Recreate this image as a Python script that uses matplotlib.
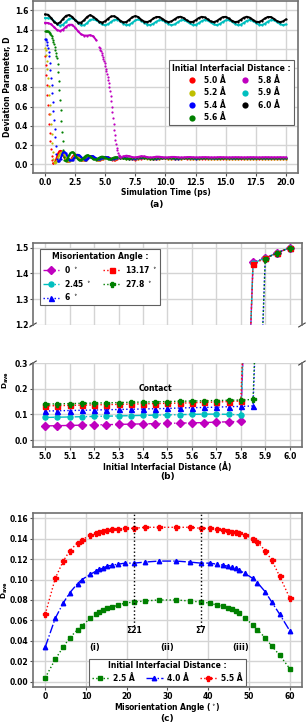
import numpy as np
import matplotlib
matplotlib.use("Agg")
import matplotlib.pyplot as plt
from matplotlib.lines import Line2D

plt.rcParams['font.family'] = ['DejaVu Sans']
plt.rcParams['font.weight'] = 'bold'
plt.rcParams['axes.labelweight'] = 'bold'
plt.rcParams['mathtext.default'] = 'bf'
plt.rcParams['font.size'] = 5.5

# ---------------- panel (a): D vs simulation time ----------------
# each series is stored as segments: (start time, step, values)
red_drop = [1.12, 1.03, 0.93, 0.82, 0.72, 0.62, 0.52, 0.42, 0.33, 0.24, 0.16, 0.09, 0.04, 0.015]
red_ring = [0.012, 0.02, 0.045, 0.08, 0.115, 0.135, 0.14, 0.13, 0.105, 0.075,
            0.05, 0.035, 0.03, 0.03, 0.04, 0.06, 0.08, 0.095, 0.10, 0.10,
            0.09, 0.075, 0.06, 0.048, 0.042, 0.04, 0.042, 0.05, 0.062, 0.074,
            0.082, 0.085, 0.083, 0.077, 0.068, 0.058, 0.05, 0.046, 0.045, 0.047,
            0.052, 0.06, 0.067, 0.073, 0.075, 0.074, 0.07, 0.063, 0.056, 0.05,
            0.048, 0.048, 0.051, 0.056]
red_tail = [0.062, 0.066, 0.064, 0.058, 0.052, 0.05, 0.054, 0.06, 0.064, 0.062,
            0.057, 0.053, 0.052, 0.056, 0.061, 0.062, 0.059, 0.055, 0.053, 0.056,
            0.06, 0.061, 0.058, 0.055, 0.054, 0.057, 0.06, 0.06, 0.057, 0.055,
            0.055, 0.058, 0.06, 0.059, 0.056, 0.055, 0.056, 0.059, 0.06, 0.058,
            0.056, 0.055, 0.057, 0.059, 0.059, 0.057, 0.055, 0.056, 0.058, 0.059,
            0.058, 0.056, 0.056, 0.057, 0.059, 0.058]

yel_drop = [1.21, 1.19, 1.14, 1.07, 0.99, 0.90, 0.81, 0.72, 0.62, 0.52, 0.42, 0.32, 0.22, 0.13, 0.06, 0.025]
yel_ring = [0.015, 0.02, 0.04, 0.07, 0.10, 0.12, 0.125, 0.115, 0.095, 0.07,
            0.05, 0.038, 0.033, 0.035, 0.045, 0.06, 0.075, 0.088, 0.093, 0.09,
            0.082, 0.07, 0.058, 0.05, 0.045, 0.045, 0.05, 0.058, 0.066, 0.074,
            0.078, 0.078, 0.074, 0.067, 0.06, 0.054, 0.05, 0.05, 0.052, 0.057,
            0.063, 0.068, 0.071, 0.071, 0.068, 0.064, 0.059, 0.055, 0.053, 0.054,
            0.057, 0.061, 0.064]
yel_tail = [0.066, 0.065, 0.06, 0.055, 0.053, 0.055, 0.06, 0.064, 0.064, 0.06,
            0.056, 0.054, 0.056, 0.06, 0.063, 0.062, 0.059, 0.056, 0.055, 0.057,
            0.06, 0.062, 0.061, 0.058, 0.056, 0.056, 0.058, 0.061, 0.061, 0.059,
            0.057, 0.056, 0.058, 0.06, 0.061, 0.06, 0.058, 0.057, 0.057, 0.059,
            0.061, 0.06, 0.058, 0.057, 0.058, 0.06, 0.061, 0.06, 0.058, 0.057,
            0.058, 0.06, 0.06, 0.059, 0.058, 0.058]

blu_drop = [1.30, 1.30, 1.29, 1.27, 1.24, 1.21, 1.17, 1.12, 1.05, 0.98, 0.90, 0.82,
            0.74, 0.65, 0.55, 0.46, 0.37, 0.28, 0.19, 0.11, 0.06, 0.035, 0.03]
blu_ring = [0.035, 0.06, 0.10, 0.125, 0.13, 0.12, 0.095, 0.07, 0.05, 0.04,
            0.04, 0.05, 0.065, 0.08, 0.095, 0.10, 0.097, 0.088, 0.075, 0.062,
            0.053, 0.048, 0.05, 0.056, 0.066, 0.076, 0.083, 0.085, 0.082, 0.075,
            0.066, 0.058, 0.053, 0.052, 0.055, 0.061, 0.068, 0.074, 0.077, 0.076,
            0.072, 0.066, 0.06, 0.056, 0.055, 0.058, 0.063, 0.068, 0.07]
blu_tail = [0.07, 0.067, 0.062, 0.058, 0.057, 0.059, 0.063, 0.067, 0.068, 0.065,
            0.061, 0.058, 0.058, 0.061, 0.064, 0.066, 0.065, 0.062, 0.06, 0.06,
            0.062, 0.064, 0.065, 0.063, 0.061, 0.06, 0.061, 0.063, 0.064, 0.064,
            0.062, 0.061, 0.061, 0.062, 0.064, 0.064, 0.063, 0.061, 0.061, 0.062,
            0.063, 0.064, 0.063, 0.062, 0.061, 0.062, 0.063, 0.063, 0.062, 0.062,
            0.062, 0.063, 0.063, 0.062, 0.062, 0.062]

grn_drop = [1.385, 1.386, 1.386, 1.385, 1.383, 1.380, 1.376, 1.371, 1.364, 1.355,
            1.344, 1.330, 1.314, 1.295, 1.273, 1.248, 1.220, 1.190, 1.160, 1.130,
            1.100, 1.040, 0.960, 0.870, 0.770, 0.670, 0.560, 0.450, 0.340, 0.240,
            0.150, 0.080, 0.040]
grn_ring = [0.035, 0.045, 0.07, 0.095, 0.115, 0.125, 0.125, 0.115, 0.095, 0.075,
            0.057, 0.046, 0.042, 0.045, 0.055, 0.068, 0.08, 0.09, 0.095, 0.093,
            0.085, 0.075, 0.064, 0.056, 0.051, 0.05, 0.054, 0.061, 0.069, 0.076,
            0.08, 0.08, 0.076, 0.07, 0.063, 0.057, 0.054, 0.054, 0.058, 0.064,
            0.07, 0.074, 0.074, 0.071]
grn_tail = [0.066, 0.061, 0.058, 0.058, 0.061, 0.066, 0.07, 0.071, 0.068, 0.064,
            0.06, 0.059, 0.061, 0.065, 0.068, 0.068, 0.066, 0.063, 0.061, 0.061,
            0.063, 0.066, 0.067, 0.066, 0.064, 0.062, 0.062, 0.063, 0.065, 0.066,
            0.066, 0.064, 0.063, 0.062, 0.063, 0.065, 0.066, 0.065, 0.064, 0.063,
            0.063, 0.064, 0.065, 0.065, 0.064, 0.063, 0.063, 0.064, 0.065, 0.065,
            0.064, 0.064, 0.064, 0.064, 0.065, 0.065]

mag_early = [1.47, 1.468, 1.455, 1.425, 1.395, 1.385, 1.40, 1.43, 1.45, 1.45,
             1.42, 1.38, 1.35, 1.338, 1.337, 1.342, 1.33, 1.29]
mag_drop = [1.22, 1.205, 1.19, 1.175, 1.155, 1.135, 1.115, 1.095, 1.075, 1.05,
            1.02, 0.995, 0.97, 0.94, 0.91, 0.88, 0.84, 0.80, 0.76, 0.71,
            0.66, 0.60, 0.54, 0.48, 0.42, 0.36, 0.30, 0.25, 0.21, 0.17,
            0.145, 0.12, 0.10, 0.09, 0.082, 0.077, 0.075]
mag_tail = [0.082, 0.09, 0.085, 0.075, 0.072, 0.078, 0.085, 0.082, 0.075, 0.071,
            0.074, 0.08, 0.079, 0.074, 0.071, 0.073, 0.077, 0.077, 0.074, 0.071,
            0.072, 0.075, 0.076, 0.074, 0.072, 0.072, 0.074, 0.075, 0.074, 0.072,
            0.072, 0.073, 0.075, 0.074, 0.073, 0.072, 0.073, 0.074, 0.074, 0.073,
            0.072, 0.073, 0.074, 0.074, 0.073, 0.072, 0.073, 0.074, 0.074, 0.073,
            0.073, 0.073, 0.074, 0.073, 0.073]

cyn_all = [1.520, 1.518, 1.515, 1.488, 1.456, 1.440, 1.451, 1.482, 1.511, 1.519,
           1.501, 1.468, 1.444, 1.444, 1.468, 1.501, 1.505, 1.498, 1.476, 1.453,
           1.445, 1.457, 1.481, 1.501, 1.503, 1.486, 1.462, 1.446, 1.450, 1.471,
           1.495, 1.505, 1.491, 1.470, 1.451, 1.447, 1.461, 1.483, 1.498, 1.497,
           1.479, 1.457, 1.446, 1.453, 1.474, 1.494, 1.500, 1.487, 1.465, 1.449,
           1.448, 1.465, 1.487, 1.500, 1.494, 1.475, 1.454, 1.446, 1.457, 1.478,
           1.496, 1.499, 1.484, 1.461, 1.447, 1.450, 1.469, 1.490, 1.500, 1.491,
           1.470, 1.451, 1.447, 1.460, 1.482, 1.498, 1.497, 1.480, 1.458, 1.446,
           1.453]
blk_all = [1.557, 1.554, 1.521, 1.480, 1.460, 1.474, 1.512, 1.543, 1.551, 1.532,
           1.498, 1.472, 1.472, 1.498, 1.532, 1.551, 1.533, 1.508, 1.482, 1.473,
           1.487, 1.514, 1.537, 1.539, 1.520, 1.492, 1.474, 1.479, 1.503, 1.529,
           1.541, 1.529, 1.501, 1.482, 1.478, 1.492, 1.515, 1.531, 1.530, 1.511,
           1.489, 1.477, 1.485, 1.506, 1.527, 1.533, 1.520, 1.497, 1.480, 1.479,
           1.496, 1.519, 1.532, 1.527, 1.507, 1.485, 1.477, 1.488, 1.510, 1.529,
           1.532, 1.516, 1.493, 1.478, 1.481, 1.501, 1.523, 1.533, 1.524, 1.502,
           1.482, 1.478, 1.492, 1.515, 1.531, 1.530, 1.512, 1.489, 1.477, 1.484,
           1.505]

dist_labels_a = ['5.0 Å', '5.2 Å', '5.4 Å', '5.6 Å', '5.8 Å', '5.9 Å', '6.0 Å']
colors_a = ['r', 'y', 'b', 'g', 'm', 'c', 'k']
# (start, step, values, dotted-only?)
series_a = [
    [(0.0, 0.05, red_drop, True), (0.7, 0.1, red_ring, False), (6.25, 0.25, red_tail, False)],
    [(0.0, 0.05, yel_drop, True), (0.8, 0.1, yel_ring, False), (6.25, 0.25, yel_tail, False)],
    [(0.0, 0.05, blu_drop, True), (1.2, 0.1, blu_ring, False), (6.25, 0.25, blu_tail, False)],
    [(0.0, 0.05, grn_drop, True), (1.7, 0.1, grn_ring, False), (6.25, 0.25, grn_tail, False)],
    [(0.0, 0.25, mag_early, False), (4.5, 0.05, mag_drop, True), (6.5, 0.25, mag_tail, False)],
    [(0.0, 0.25, cyn_all, False)],
    [(0.0, 0.25, blk_all, False)],
]

# ---------------- panel (b): D_ave vs interfacial distance ----------------
dist_b = [5.0, 5.05, 5.1, 5.15, 5.2, 5.25, 5.3, 5.35, 5.4, 5.45, 5.5,
          5.55, 5.6, 5.65, 5.7, 5.75, 5.8, 5.85, 5.9, 5.95, 6.0]
ang0 = [0.055, 0.056, 0.057, 0.058, 0.059, 0.060, 0.061, 0.062, 0.063, 0.064, 0.065,
        0.066, 0.067, 0.068, 0.070, 0.071, 0.073, 1.445, 1.46, 1.48, 1.50]
ang245 = [0.088, 0.089, 0.090, 0.091, 0.092, 0.093, 0.094, 0.095, 0.096, 0.097, 0.098,
          0.099, 0.100, 0.101, 0.101, 0.100, 0.098, 1.44, 1.46, 1.48, 1.50]
ang6 = [0.113, 0.114, 0.115, 0.116, 0.117, 0.118, 0.119, 0.120, 0.121, 0.122, 0.123,
        0.125, 0.126, 0.127, 0.128, 0.130, 0.131, 0.133, 1.46, 1.48, 1.50]
ang1317 = [0.133, 0.134, 0.135, 0.136, 0.137, 0.138, 0.139, 0.140, 0.141, 0.142, 0.143,
           0.144, 0.145, 0.147, 0.148, 0.150, 0.152, 1.435, 1.46, 1.48, 1.50]
ang278 = [0.140, 0.141, 0.142, 0.143, 0.144, 0.145, 0.146, 0.147, 0.148, 0.149, 0.150,
          0.151, 0.152, 0.153, 0.154, 0.155, 0.156, 0.158, 1.457, 1.48, 1.50]
labels_b = ['0 $^\\circ$', '2.45 $^\\circ$', '6 $^\\circ$', '13.17 $^\\circ$', '27.8 $^\\circ$']
series_b = [ang0, ang245, ang6, ang1317, ang278]
style_b = [('m', 'D', '-.'), ('c', 'o', '-.'), ('b', '^', ':'), ('r', 's', ':'), ('g', 'P', ':')]

# ---------------- panel (c): D_ave vs misorientation angle ----------------
angles_c = [0, 2.45, 4.41, 6.01, 7.93, 9.05, 11.0, 12.4, 13.17, 14.1, 15.2, 16.4, 17.9,
            19.6, 21.79, 24.43, 27.8, 32.2, 35.57, 38.21, 40.4, 42.1, 43.6, 44.8,
            45.9, 46.83, 47.6, 49.0, 50.95, 52.07, 53.99, 55.59, 57.55, 60]
d25 = [0.004, 0.022, 0.034, 0.043, 0.051, 0.055, 0.062, 0.066, 0.068, 0.070, 0.072,
       0.073, 0.075, 0.077, 0.078, 0.079, 0.080, 0.080, 0.079, 0.078, 0.077, 0.075,
       0.074, 0.072, 0.071, 0.069, 0.067, 0.062, 0.056, 0.051, 0.043, 0.035, 0.026, 0.013]
d40 = [0.034, 0.062, 0.077, 0.087, 0.096, 0.100, 0.105, 0.108, 0.110, 0.111, 0.113,
       0.114, 0.115, 0.116, 0.116, 0.117, 0.118, 0.118, 0.117, 0.116, 0.116, 0.115,
       0.114, 0.113, 0.112, 0.111, 0.109, 0.106, 0.101, 0.097, 0.088, 0.078, 0.066, 0.050]
d55 = [0.066, 0.101, 0.118, 0.128, 0.136, 0.139, 0.143, 0.145, 0.146, 0.147, 0.148,
       0.149, 0.149, 0.150, 0.150, 0.151, 0.151, 0.151, 0.151, 0.150, 0.150, 0.149,
       0.148, 0.147, 0.146, 0.146, 0.145, 0.143, 0.140, 0.137, 0.128, 0.119, 0.103, 0.082]
labels_c = ['2.5 Å', '4.0 Å', '5.5 Å']
sigma_angles = [21.79, 38.21]
sigma_labels = ['Σ21', 'Σ7']


def style_axes(ax):
    ax.grid(True, color='#d4d4d4', lw=1.0)
    ax.set_axisbelow(True)
    for s in ax.spines.values():
        s.set_color('#707070')
        s.set_linewidth(1.2)
    ax.tick_params(length=2.5, width=0.8, pad=1.0, labelsize=5.5, color='#505050')


fig = plt.figure(figsize=(3.07, 7.22), dpi=100)

# ----- (a) -----
ax_a = fig.add_axes([0.1075, 0.7604, 0.863, 0.2387])
style_axes(ax_a)
for segs, col in zip(series_a, colors_a):
    for t0, dt, vals, dotted in segs:
        t = t0 + dt * np.arange(len(vals))
        if not dotted:
            ax_a.plot(t, vals, '-', color=col, lw=1.4)
        ax_a.plot(t, vals, 'o', color=col, ms=1.6, mew=0)
ax_a.set_xlim(-1, 21)
ax_a.set_ylim(-0.09, 1.7)
ax_a.set_xticks(np.arange(0, 20.1, 2.5))
ax_a.set_xticklabels([f'{v:.1f}' for v in np.arange(0, 20.1, 2.5)])
ax_a.set_yticks(np.arange(0, 1.61, 0.2))
ax_a.set_yticklabels([f'{v:.1f}' for v in np.arange(0, 1.61, 0.2)])
ax_a.set_xlabel('Simulation Time (ps)', labelpad=1)
ax_a.set_ylabel('Deviation Parameter, D', labelpad=2)
handles_a = [Line2D([], [], ls='none', marker='o', ms=4.5, color=c, mew=0) for c in colors_a]
leg = ax_a.legend(handles_a, dist_labels_a, ncol=2, loc='upper right',
                  bbox_to_anchor=(1.0, 0.675), title='Initial Interfacial Distance :',
                  title_fontproperties={'weight': 'bold', 'size': 5.5}, fontsize=5.5,
                  handletextpad=0.6, columnspacing=1.6, labelspacing=0.45,
                  borderpad=0.4, framealpha=1, edgecolor='#606060', fancybox=False)
leg.get_frame().set_linewidth(0.8)

# ----- (b) broken axis -----
ax_b1 = fig.add_axes([0.1075, 0.5499, 0.876, 0.1135])
ax_b2 = fig.add_axes([0.1075, 0.3809, 0.876, 0.1163])
for ax in (ax_b1, ax_b2):
    style_axes(ax)
    for vals, (col, mk, ls), lab in zip(series_b, style_b, labels_b):
        ax.plot(dist_b, vals, ls=ls, color=col, marker=mk, ms=3.6, lw=1.0, label=lab)
    ax.set_xlim(4.95, 6.05)
    ax.set_xticks(np.arange(5.0, 6.01, 0.1))
ax_b1.set_ylim(1.2, 1.518)
ax_b1.set_yticks([1.2, 1.3, 1.4, 1.5])
ax_b1.tick_params(labelbottom=False, bottom=False)
ax_b1.spines['bottom'].set_visible(False)
ax_b2.set_ylim(-0.027, 0.3)
ax_b2.set_yticks([0.0, 0.1, 0.2, 0.3])
ax_b2.spines['top'].set_visible(False)
ax_b2.set_xticklabels([f'{v:.1f}' for v in np.arange(5.0, 6.01, 0.1)])
ax_b2.set_xlabel('Initial Interfacial Distance (Å)', labelpad=1)
ax_b2.text(5.45, 0.2, 'Contact', ha='center', va='center', fontsize=5.5)

d = 0.012
kw = dict(color='#404040', clip_on=False, lw=0.8)
ax_b1.plot((-d, d), (-d * 2, d * 2), transform=ax_b1.transAxes, **kw)
ax_b1.plot((1 - d, 1 + d), (-d * 2, d * 2), transform=ax_b1.transAxes, **kw)
ax_b2.plot((-d, d), (1 - d * 2, 1 + d * 2), transform=ax_b2.transAxes, **kw)
ax_b2.plot((1 - d, 1 + d), (1 - d * 2, 1 + d * 2), transform=ax_b2.transAxes, **kw)

leg_b = ax_b1.legend(ncol=2, loc='upper left', bbox_to_anchor=(0.01, 0.97),
                     title='Misorientation Angle :',
                     title_fontproperties={'weight': 'bold', 'size': 5.5}, fontsize=5.5,
                     handlelength=2.2, handletextpad=0.6, columnspacing=1.6,
                     labelspacing=0.35, borderpad=0.4, framealpha=1,
                     edgecolor='#606060', fancybox=False)
leg_b.get_frame().set_linewidth(0.8)
fig.text(0.018, 0.4735, 'D$_{ave}$', rotation=90, ha='center', va='center', fontsize=5.2)

# ----- (c) -----
ax_c = fig.add_axes([0.1075, 0.0485, 0.876, 0.241])
style_axes(ax_c)
ax_c.plot(angles_c, d25, ls=':', color='g', marker='s', ms=3.2, lw=1.0, label=labels_c[0])
ax_c.plot(angles_c, d40, ls='-.', color='b', marker='^', ms=3.2, lw=1.0, label=labels_c[1])
ax_c.plot(angles_c, d55, ls=':', color='r', marker='P', ms=3.6, lw=1.0, label=labels_c[2])
for a, s in zip(sigma_angles, sigma_labels):
    ax_c.axvline(a, ymin=0.35, ymax=1.0, color='k', ls=':', lw=1.0)
    ax_c.text(a, 0.0505, s, ha='center', va='center', fontsize=5.5)
ax_c.text(12.1, 0.0335, '(i)', ha='center', va='center', fontsize=6)
ax_c.text(29.9, 0.0335, '(ii)', ha='center', va='center', fontsize=6)
ax_c.text(47.9, 0.0335, '(iii)', ha='center', va='center', fontsize=6)
ax_c.set_xlim(-3, 63)
ax_c.set_ylim(-0.005, 0.165)
ax_c.set_xticks(np.arange(0, 61, 10))
ax_c.set_yticks(np.arange(0, 0.161, 0.02))
ax_c.set_yticklabels([f'{v:.2f}' for v in np.arange(0, 0.161, 0.02)])
ax_c.set_xlabel('Misorientation Angle ($^\\circ$)', labelpad=0)
fig.text(0.017, 1 - 590 / 722, 'D$_{ave}$', rotation=90, ha='center', va='center', fontsize=5.2)
leg_c = ax_c.legend(ncol=3, loc='lower center', bbox_to_anchor=(0.5, 0.0),
                    title='Initial Interfacial Distance :',
                    title_fontproperties={'weight': 'bold', 'size': 5.5}, fontsize=5.5,
                    handlelength=2.2, handletextpad=0.6, columnspacing=1.4,
                    borderpad=0.35, borderaxespad=0.15, framealpha=1,
                    edgecolor='#606060', fancybox=False)
leg_c.get_frame().set_linewidth(0.8)

fig.text(0.51, 1 - 205 / 722, '(a)', ha='center', va='center', fontsize=6.5)
fig.text(0.545, 1 - 477 / 722, '(b)', ha='center', va='center', fontsize=6.5)
fig.text(0.545, 0.0055, '(c)', ha='center', va='center', fontsize=6.5)

fig.savefig('out.png', dpi=100)
